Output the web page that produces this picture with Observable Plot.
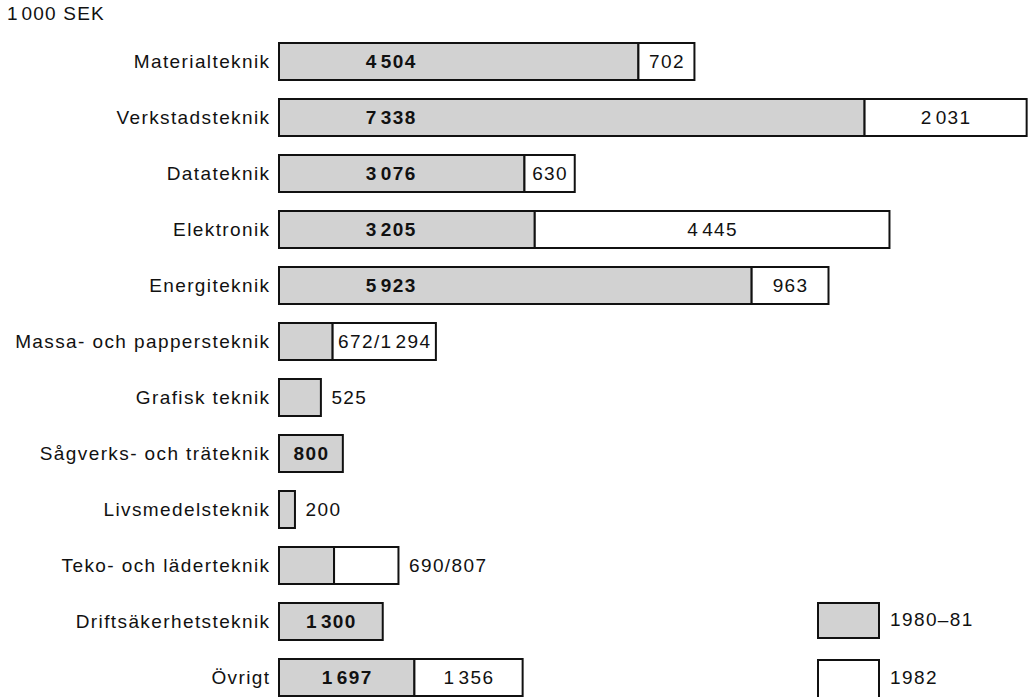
<!DOCTYPE html>
<html>
<head>
<meta charset="utf-8">
<script src="https://cdn.jsdelivr.net/npm/d3@7"></script>
<script src="https://cdn.jsdelivr.net/npm/@observablehq/plot@0.6"></script>
<style>
  body { margin: 0; background: white; }
  #wrap { position: relative; width: 1033px; height: 697px; overflow: hidden; font-family: "Liberation Sans", Arial, sans-serif; color: #111; }
  #wrap svg text { letter-spacing: 1.4px; }
  #title { position: absolute; left: 7px; top: 3px; font-size: 19px; letter-spacing: 1.2px; }
  .sw { position: absolute; left: 817px; width: 59px; border: 2px solid #111; }
  .lt { position: absolute; left: 890px; font-size: 19px; letter-spacing: 1.4px; }
</style>
</head>
<body>
<div id="wrap">
  <div id="chart"></div>
  <div id="title">1&#8202;000 SEK</div>
  <div class="sw" style="top:602px;height:33px;background:#d2d2d2"></div>
  <div class="lt" style="top:609px">1980&#8211;81</div>
  <div class="sw" style="top:659px;height:40px;background:#fff"></div>
  <div class="lt" style="top:667px">1982</div>
</div>
<script>
const categories = ["Materialteknik","Verkstadsteknik","Datateknik","Elektronik","Energiteknik","Massa- och pappersteknik","Grafisk teknik","Sågverks- och träteknik","Livsmedelsteknik","Teko- och läderteknik","Driftsäkerhetsteknik","Övrigt"];
const v1980 = [4504, 7338, 3076, 3205, 5923, 672, 525, 800, 200, 690, 1300, 1697];
const v1982 = [702, 2031, 630, 4445, 963, 1294, 0, 0, 0, 807, 0, 1356];
const grayText = ["4\u200A504","7\u200A338","3\u200A076","3\u200A205","5\u200A923","","","800","","","1\u200A300","1\u200A697"];
const whiteText = ["702","2\u200A031","630","4\u200A445","963","672/1\u200A294","","","","","","1\u200A356"];
const outsideText = ["","","","","","","525","","200","690/807","",""];
const seriesNames = ["1980–81","1982"];

const rows = [];
categories.forEach((c, i) => {
  rows.push({cat: c, series: seriesNames[0], value: v1980[i]});
  if (v1982[i] > 0) rows.push({cat: c, series: seriesNames[1], value: v1982[i]});
});
const grayLab = categories.map((c, i) => ({cat: c, x: Math.min(v1980[i] / 2, 1400), t: grayText[i]})).filter(d => d.t);
const whiteLab = categories.map((c, i) => ({cat: c, x: v1980[i] + v1982[i] / 2, t: whiteText[i]})).filter(d => d.t);
const outLab = categories.map((c, i) => ({cat: c, x: v1980[i] + v1982[i], t: outsideText[i]})).filter(d => d.t);

const chart = Plot.plot({
  width: 1033, height: 697,
  marginLeft: 279, marginRight: 0, marginTop: 41, marginBottom: 0,
  x: {domain: [0, 10000], range: [279, 1077], axis: null},
  y: {domain: categories, range: [41, 697], paddingInner: 0.34, paddingOuter: 0, axis: null},
  color: {domain: seriesNames, range: ["#d2d2d2", "#ffffff"]},
  style: {fontFamily: "Liberation Sans, Arial, sans-serif", fontSize: "19px", background: "white", color: "#111", overflow: "hidden"},
  marks: [
    Plot.axisY({tickSize: 0, tickPadding: 9, fontSize: 19, label: null}),
    Plot.barX(rows, {x: "value", y: "cat", fill: "series", stroke: "#111", strokeWidth: 2}),
    Plot.text(grayLab, {x: "x", y: "cat", text: "t", fontWeight: 600, fontSize: 19}),
    Plot.text(whiteLab, {x: "x", y: "cat", text: "t", fontSize: 19}),
    Plot.text(outLab, {x: "x", y: "cat", text: "t", textAnchor: "start", dx: 10, fontSize: 19})
  ]
});
document.getElementById("chart").appendChild(chart);
</script>
</body>
</html>
